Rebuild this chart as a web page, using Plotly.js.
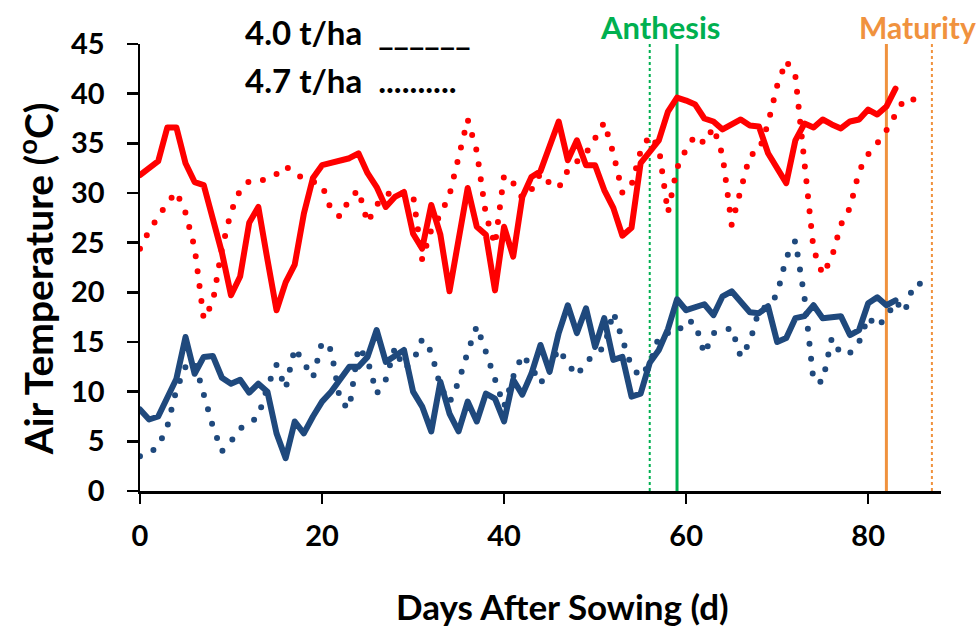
<!DOCTYPE html>
<html>
<head>
<meta charset="utf-8">
<script src="https://cdn.plot.ly/plotly-3.0.1.min.js"></script>
<style>
  html, body { margin: 0; padding: 0; background: #fff; }
  #chart { width: 977px; height: 628px; }
  .js-line { stroke-linecap: round !important; stroke-linejoin: round !important; }
</style>
</head>
<body>
<div id="chart"></div>
<script>
// ---- data ----
const days40 = Array.from({length: 84}, (_, i) => i);   // 4.0 t/ha, days 0..83
const days47 = Array.from({length: 87}, (_, i) => i);   // 4.7 t/ha, days 0..86

const tmax40 = [31.8,32.5,33.2,36.6,36.6,33.0,31.1,30.8,27.4,24.0,
  19.7,21.6,27.0,28.6,23.3,18.2,21.0,22.8,27.9,31.5,
  32.8,33.0,33.3,33.5,34.0,32.0,30.6,28.6,29.6,30.1,
  25.9,24.4,28.8,25.8,20.1,25.5,30.5,26.6,25.8,20.2,
  26.6,23.6,29.6,31.6,32.2,34.7,37.2,33.3,35.3,32.8,
  32.8,30.3,28.5,25.7,26.5,33.0,34.2,35.3,38.2,39.6,
  39.3,38.9,37.5,37.2,36.4,36.9,37.4,36.8,36.7,34.0,
  32.5,31.0,35.3,37.0,36.6,37.4,36.9,36.5,37.2,37.4,
  38.4,37.9,38.7,40.5];

const tmax47 = [24.4,26.2,27.6,29.0,30.1,28.0,24.5,17.3,19.0,24.4,
  28.1,30.3,31.2,31.2,31.4,31.9,32.7,31.9,31.5,31.1,
  30.8,28.3,27.6,29.4,30.3,27.0,28.8,29.8,30.2,30.0,
  29.8,23.3,26.3,27.8,29.8,33.6,37.4,34.2,27.8,24.8,
  31.8,31.0,29.5,30.3,32.0,31.0,30.5,32.3,33.2,34.0,
  35.5,37.1,34.0,30.0,30.8,34.2,35.8,34.6,28.0,32.5,
  34.4,35.8,35.0,36.6,33.8,26.8,30.3,33.8,34.2,37.0,
  40.8,43.3,41.8,32.5,24.3,21.8,23.5,26.8,28.5,32.2,
  33.9,35.0,36.3,37.9,39.5,39.4,38.6];

const tmin40 = [8.2,7.2,7.5,9.3,11.3,15.5,11.8,13.5,13.6,11.4,
  10.8,11.2,9.9,10.8,10.0,5.8,3.3,7.0,5.8,7.5,
  9.0,10.0,11.2,12.5,12.5,13.5,16.2,13.0,13.6,14.2,
  10.0,8.5,6.0,11.0,7.8,6.0,9.0,7.0,9.8,9.3,
  7.0,11.2,9.7,11.8,14.7,12.0,15.9,18.7,15.9,18.4,
  14.5,17.4,13.2,13.5,9.5,9.8,12.9,14.2,16.3,19.3,
  18.2,18.5,18.8,17.7,19.6,20.1,19.1,18.0,17.9,18.6,
  15.0,15.4,17.4,17.6,18.7,17.4,17.5,17.6,15.7,16.2,
  18.9,19.5,18.7,19.2];

const tmin47 = [3.5,3.8,4.5,6.5,10.2,12.5,13.0,9.8,6.5,4.0,
  5.0,6.3,6.8,7.5,10.5,12.7,10.3,14.4,13.0,11.4,
  15.0,14.2,9.0,8.3,14.5,13.2,9.8,11.2,14.4,12.3,
  13.0,15.3,14.0,10.5,8.9,11.0,14.0,16.6,14.0,11.0,
  8.5,11.5,13.7,12.5,10.8,12.5,14.3,12.8,11.6,13.0,
  13.8,14.5,18.0,15.0,12.5,11.5,12.8,15.5,15.9,15.9,
  17.2,16.9,13.8,15.9,16.2,16.4,13.5,15.0,18.2,18.6,
  19.8,23.5,25.2,19.5,11.0,11.0,15.4,13.8,13.9,15.0,
  17.5,16.5,17.5,19.1,18.0,20.8,20.9];

const anthesisDays = [56, 59];   // 4.7 t/ha (dotted), 4.0 t/ha (solid)
const maturityDays = [87, 82];   // 4.7 t/ha (dotted), 4.0 t/ha (solid)
const xTicks = [0, 20, 40, 60, 80];
const yTicks = [0, 5, 10, 15, 20, 25, 30, 35, 40, 45];

// ---- styles ----
const RED = '#FF0000', BLUE = '#1F497D', GREEN = '#00B050', ORANGE = '#F0923E';
const FONT = 'Lato, "Open Sans", sans-serif';
const DOTS = '0px,15px';

const traces = [
  {x: days47, y: tmax47, mode: 'lines', name: 'Tmax 4.7 t/ha',
   line: {color: RED, width: 6, dash: DOTS}},
  {x: days47, y: tmin47, mode: 'lines', name: 'Tmin 4.7 t/ha',
   line: {color: BLUE, width: 6, dash: DOTS}},
  {x: days40, y: tmax40, mode: 'lines', name: 'Tmax 4.0 t/ha',
   line: {color: RED, width: 6}},
  {x: days40, y: tmin40, mode: 'lines', name: 'Tmin 4.0 t/ha',
   line: {color: BLUE, width: 6}}
];

function vline(x, color, dash, width) {
  return {type: 'line', xref: 'x', yref: 'y', x0: x, x1: x, y0: 0, y1: 45,
          layer: 'below', line: {color: color, width: width, dash: dash}};
}

const layout = {
  width: 977, height: 628,
  margin: {l: 140, r: 36, t: 44, b: 137},
  paper_bgcolor: '#fff', plot_bgcolor: '#fff',
  showlegend: false,
  font: {family: FONT, color: '#000'},
  xaxis: {
    range: [0, 88], tickvals: xTicks, ticktext: xTicks.map(String),
    showgrid: false, zeroline: false, showline: true,
    linecolor: '#000', linewidth: 2.5,
    ticks: 'outside', ticklen: 10, tickwidth: 2.5, tickcolor: '#000',
    ticklabelstandoff: 8,
    tickfont: {family: FONT, size: 29, color: '#000', weight: 'bold'},
    fixedrange: true
  },
  yaxis: {
    range: [0, 45], tickvals: yTicks, ticktext: yTicks.map(String),
    showgrid: false, zeroline: false, showline: true,
    linecolor: '#000', linewidth: 2.5,
    ticks: 'outside', ticklen: 11, tickwidth: 2.5, tickcolor: '#000',
    ticklabelstandoff: 16,
    tickfont: {family: FONT, size: 29, color: '#000', weight: 'bold'},
    fixedrange: true
  },
  shapes: [
    vline(anthesisDays[0], GREEN, 'dot', 2),
    vline(anthesisDays[1], GREEN, 'solid', 3),
    vline(maturityDays[1], ORANGE, 'solid', 3),
    vline(maturityDays[0], ORANGE, 'dot', 2)
  ],
  annotations: [
    {text: 'Air Temperature (<sup>o</sup>C)', xref: 'paper', yref: 'paper',
     x: -0.131, y: 0.474, xanchor: 'center', yanchor: 'middle', textangle: -90,
     showarrow: false, font: {family: FONT, size: 39, color: '#000', weight: 'bold'}},
    {text: 'Days After Sowing (d)', xref: 'paper', yref: 'paper',
     x: 0.527, y: -0.257, xanchor: 'center', yanchor: 'middle',
     showarrow: false, font: {family: FONT, size: 35, color: '#000', weight: 'bold'}},
    {text: '4.0 t/ha  ______', xref: 'paper', yref: 'paper',
     x: 0.1286, y: 1.027, xanchor: 'left', yanchor: 'middle',
     showarrow: false, font: {family: FONT, size: 33, color: '#000', weight: 'bold'}},
    {text: '4.7 t/ha  ..........', xref: 'paper', yref: 'paper',
     x: 0.1286, y: 0.919, xanchor: 'left', yanchor: 'middle',
     showarrow: false, font: {family: FONT, size: 33, color: '#000', weight: 'bold'}},
    {text: 'Anthesis', xref: 'paper', yref: 'paper',
     x: 0.649, y: 1.038, xanchor: 'center', yanchor: 'middle',
     showarrow: false, font: {family: FONT, size: 31, color: GREEN, weight: 'bold'}},
    {text: 'Maturity', xref: 'paper', yref: 'paper',
     x: 0.971, y: 1.038, xanchor: 'center', yanchor: 'middle',
     showarrow: false, font: {family: FONT, size: 30, color: ORANGE, weight: 'bold'}}
  ]
};

Plotly.newPlot('chart', traces, layout, {displayModeBar: false, staticPlot: true});
</script>
</body>
</html>
